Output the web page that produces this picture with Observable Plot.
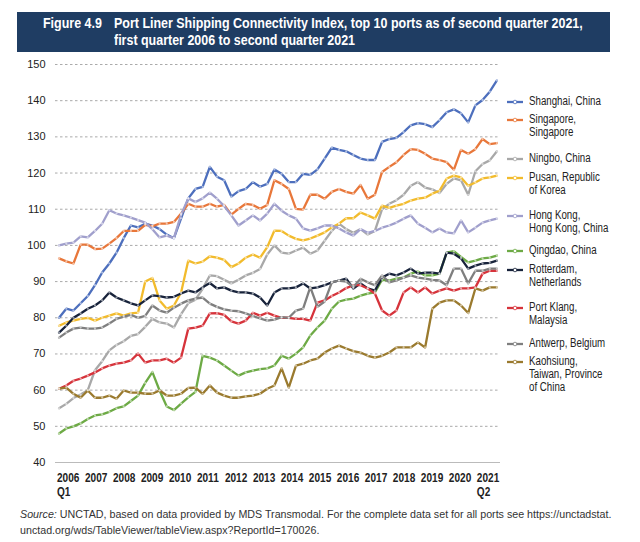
<!DOCTYPE html>
<html><head><meta charset="utf-8">
<script src="https://cdn.jsdelivr.net/npm/d3@7"></script>
<script src="https://cdn.jsdelivr.net/npm/@observablehq/plot@0.6"></script>
<style>
body{margin:0;background:#fff;font-family:"Liberation Sans",Arial,sans-serif;color:#222}
#wrap{position:relative;width:640px;height:542px;overflow:hidden;background:#fff}
#title{position:absolute;left:17px;top:12px;width:593px;height:40px;background:#1f3d63;color:#fff;font-weight:bold;font-size:14px;line-height:17px}
#title span{position:absolute;top:3px;white-space:nowrap;transform:scaleX(0.89);transform-origin:left top}
#title .fig{left:26px}
#title .txt{left:97px}
#chart{position:absolute;left:0;top:55px}
#legend{position:absolute;left:0;top:0;width:640px;height:542px;pointer-events:none}
.entry{position:absolute;left:507px;font-size:12px;line-height:13px;display:flex;align-items:flex-start}
.entry svg{margin-top:1px;margin-right:6px;flex:none}
.entry span{display:inline-block;white-space:nowrap;transform:scaleX(0.81);transform-origin:left top}
#caption{position:absolute;left:20px;top:506px;font-size:10.7px;line-height:16px;color:#333;white-space:nowrap}
</style></head>
<body><div id="wrap">
<div id="title"><span class="fig">Figure 4.9</span><span class="txt">Port Liner Shipping Connectivity Index, top 10 ports as of second quarter 2021,<br>first quarter 2006 to second quarter 2021</span></div>
<div id="chart"></div>
<div id="legend"></div>
<div id="caption"><i>Source:</i> UNCTAD, based on data provided by MDS Transmodal. For the complete data set for all ports see https://unctadstat.<br>unctad.org/wds/TableViewer/tableView.aspx?ReportId=170026.</div>
</div>
<script>
const ports = ["Shanghai, China","Singapore, Singapore","Ningbo, China","Pusan, Republic of Korea","Hong Kong, Hong Kong, China","Qingdao, China","Rotterdam, Netherlands","Port Klang, Malaysia","Antwerp, Belgium","Kaohsiung, Taiwan, Province of China"];
const legendLabels = [["Shanghai, China"],["Singapore,","Singapore"],["Ningbo, China"],["Pusan, Republic","of Korea"],["Hong Kong,","Hong Kong, China"],["Qingdao, China"],["Rotterdam,","Netherlands"],["Port Klang,","Malaysia"],["Antwerp, Belgium"],["Kaohsiung,","Taiwan, Province","of China"]];
const colors = ["#4d6fbd","#e8773a","#a8a8a8","#f2bb2c","#a09fcc","#6daa45","#17223a","#d6333b","#7f7f7f","#9a7a2e"];
const yearLabels = ["2006\nQ1","2007","2008","2009","2010","2011","2012","2013","2014","2015","2016","2017","2018","2019","2020","2021\nQ2"];
const yTicks = [40,50,60,70,80,90,100,110,120,130,140,150];

const shanghai = [80,82.5,82,84,86,89,92.5,95,98,102,105.5,105,106,105.5,104.5,103,102,107.5,113,115.6,116.2,121.7,119,118,113.5,115,115.6,117.5,116.2,117,121,119.8,117.5,117.5,119.8,119.5,121,124,127,126.4,126,125,124,123.6,123.6,128.6,129.4,129.7,131.3,133.2,133.8,133.5,132.7,134.6,136.8,137.6,136.5,134,138.7,140.2,142.5,145.6];
const singapore = [96.4,95.6,95,100.2,100.2,99,99.1,100.5,102,104,104,104,105.7,105.3,106,106,106.5,108.8,111.5,110.7,110.7,111.5,110.7,111.2,108.5,110.1,111.5,111.2,110.1,111.2,118,117,115.6,110.1,109.9,114,114,112.9,114.8,115.6,114.8,114.3,116.7,112.9,114,120.3,121.7,123,125,126.6,126.4,125.3,124,123.6,123,120.9,126.4,125.3,126.6,129.4,128,128.3];
const ningbo = [55,56.2,57.8,58.8,60,65.5,68,71,72.5,73.5,75,75.5,77.5,79.7,78.7,78.4,77.3,81,84,85,88,91.7,91.5,90.5,89.5,90.5,91.7,92.4,93.5,97.5,100,98,97.7,98.6,99.4,97.7,98.6,101.3,104,106,104.5,103.5,104.5,103,104,110,111.5,112.5,114,116.5,117.5,116,115.5,114.5,117,118.5,118,114,120.5,122.5,123.5,126];
const pusan = [77.8,78.7,79.2,79.7,80,79.2,80,80.6,81.2,80.6,81.2,81.4,90,91,84.8,82.5,83.4,87,95.8,95,95.5,97,96.6,96,94,95,96.6,97.5,96.6,99.5,104.1,104,102.7,101.8,101.4,101.9,102.7,103.6,105,106,107.5,107.5,109.1,108.3,107.4,111,110.4,111,111.5,112.4,112.9,113.2,114.3,115.1,118.5,119.3,118.8,116.5,117.4,118.5,118.8,119.3];
const hongKong = [100,100.5,100.8,102.5,102.2,104,106,109.7,108.8,108.3,107.7,107,106.3,104.5,102.2,102.7,102,108.5,113,112,113,114.6,112.9,110.9,108.3,105.5,106.9,108.3,106.9,108.8,111.5,109.6,108.3,107.4,104.7,104.1,104.7,105.5,105.5,104.7,103.6,102.7,104.5,103.5,104,104.9,105.5,106.3,107.4,108.3,106,104.9,103.6,104.7,103.6,103.3,106.9,103.6,104.9,106.3,106.9,107.4];
const qingdao = [48,49.4,50,50.8,52,53,53.3,54,55,55.5,57,58.5,62,65,59.9,55.5,54.5,56.3,58,59.5,69.5,69,68.2,66.8,65.4,64,64.9,65.4,65.8,66,66.8,69.5,68.7,70.1,71.8,75.1,77.3,79.2,82.5,84.5,85,85.3,86.1,86.7,87,90.5,90.3,90.8,91.1,92.2,92.8,91.7,91.7,92.2,98,98.4,96.8,95.3,95.8,96.4,96.6,97.2];
const rotterdam = [75.9,77.8,80,81.2,82.5,83.4,84.8,87,85.6,84.8,84,83.4,84.8,86.2,86,85.6,85.8,86.7,87.5,87,88.4,89.6,88.1,88.4,87.5,87,87,86.7,85.6,83.4,87,88.1,88.1,88.4,89.5,88.1,88.4,89,89.8,90.3,90.8,88.1,89.5,88.1,87.5,91.1,92.2,91.7,92.5,93.6,92.2,92.5,92.5,92.2,98,97.7,96.4,93.6,94.4,95,95.2,95.8];
const portKlang = [60.4,61.3,62.6,63.2,64,64.9,66,66.8,67.3,67.6,68.2,70.1,67.6,68.2,68.2,68.7,67.6,69,77,77.3,77.8,81.2,81.3,80.8,79,78.4,79.2,81.4,80.6,81.4,80.6,80,80,79.7,79.7,79.2,84.2,84.8,86,87,88.2,89,89,88.1,86.7,82,80.6,82,87,88.4,87,88.4,86.7,87.5,88.1,87.5,88.1,88.1,88.4,92.2,93,93];
const antwerp = [74.5,75.9,77,77.3,77,77,77.3,78.4,79.7,80.3,80.8,80,80.5,83.4,82,81.4,82.8,83.9,84.8,85.3,85.6,83.9,83,82.3,82,81.8,81.2,80.5,79.8,79.2,79.5,80.2,80,82,82.5,88.5,83,84.5,89.8,90.3,90,88.5,90.8,89.8,89,91.7,89.8,90.3,91.1,91.7,91.1,90.8,90.5,90.3,89,93.6,93.6,89.5,93,93,93.6,93.6];
const kaohsiung = [60.4,60.7,59,57.9,59.9,57.9,57.9,58.5,57.6,59.9,59.3,59.3,59,59,59.9,58.5,58.5,59,60.6,60.7,59,61.3,59.3,58.5,57.9,57.9,58.3,58.5,59,60.4,61.3,66,60.7,66.8,67.3,68.2,68.7,70.4,71.5,72.3,71.5,70.8,70.4,69.5,69,69.5,70.4,71.8,71.8,71.8,73.2,71.8,82.5,84.2,84.8,84.8,83.4,81.3,88.1,87.5,88.4,88.4];

const seriesValues = [shanghai,singapore,ningbo,pusan,hongKong,qingdao,rotterdam,portKlang,antwerp,kaohsiung];
const rows = [];
ports.forEach((p,k)=>seriesValues[k].forEach((v,i)=>rows.push({port:p,i,v})));
const labelRows = yearLabels.map((t,k)=>({t,k}));

const chart = Plot.plot({
  width:640, height:445,
  marginLeft:55, marginRight:140, marginTop:9, marginBottom:38,
  style:{fontFamily:'"Liberation Sans",Arial,sans-serif', fontSize:"11px", color:"#222", background:"transparent"},
  x:{domain:[-0.5,61.5], axis:null},
  y:{domain:[40,150], axis:null},
  color:{domain:ports, range:colors},
  marks:[
    Plot.gridY(yTicks.filter(v=>v>40), {stroke:"#aaa", strokeOpacity:1, strokeDasharray:"2.5,2.5", strokeWidth:1}),
    Plot.ruleY([40], {stroke:"#bbb", strokeWidth:1.2}),
    Plot.axisY({ticks:yTicks, tickSize:0, tickPadding:10, label:null, fontSize:11}),
    Plot.lineY(rows, {x:"i", y:"v", z:"port", stroke:"port", strokeWidth:2.3, strokeLinejoin:"round"}),
    Plot.dot(rows, {x:"i", y:"v", fill:"white", fillOpacity:0.55, r:1.1, stroke:null}),
    Plot.text(labelRows, {x:d=>d.k*3.9-0.3, y:()=>40, text:"t", textAnchor:"start", lineAnchor:"top", dy:9, fontSize:12, fontWeight:"bold", fill:"#222", lineHeight:1.2})
  ]
});
document.getElementById("chart").appendChild(chart);
chart.querySelectorAll('text').forEach(t=>{
  if (/^20\d\d/.test(t.textContent.trim())) {
    const tr = t.getAttribute("transform") || "";
    t.setAttribute("transform", tr + " scale(0.84,1)");
  }
});

const legendTops = [95,113,152,171,209,244,263,301,337,355];
const leg = document.getElementById("legend");
ports.forEach((p,k)=>{
  const e = document.createElement("div");
  e.className="entry"; e.style.top = legendTops[k]+"px";
  e.innerHTML = `<svg width="16" height="12"><line x1="0" x2="16" y1="6" y2="6" stroke="${colors[k]}" stroke-width="2.3"/><circle cx="8" cy="6" r="1.8" fill="white" stroke="${colors[k]}" stroke-width="0.8"/></svg><span>${legendLabels[k].join("<br>")}</span>`;
  leg.appendChild(e);
});
</script>
</body></html>
